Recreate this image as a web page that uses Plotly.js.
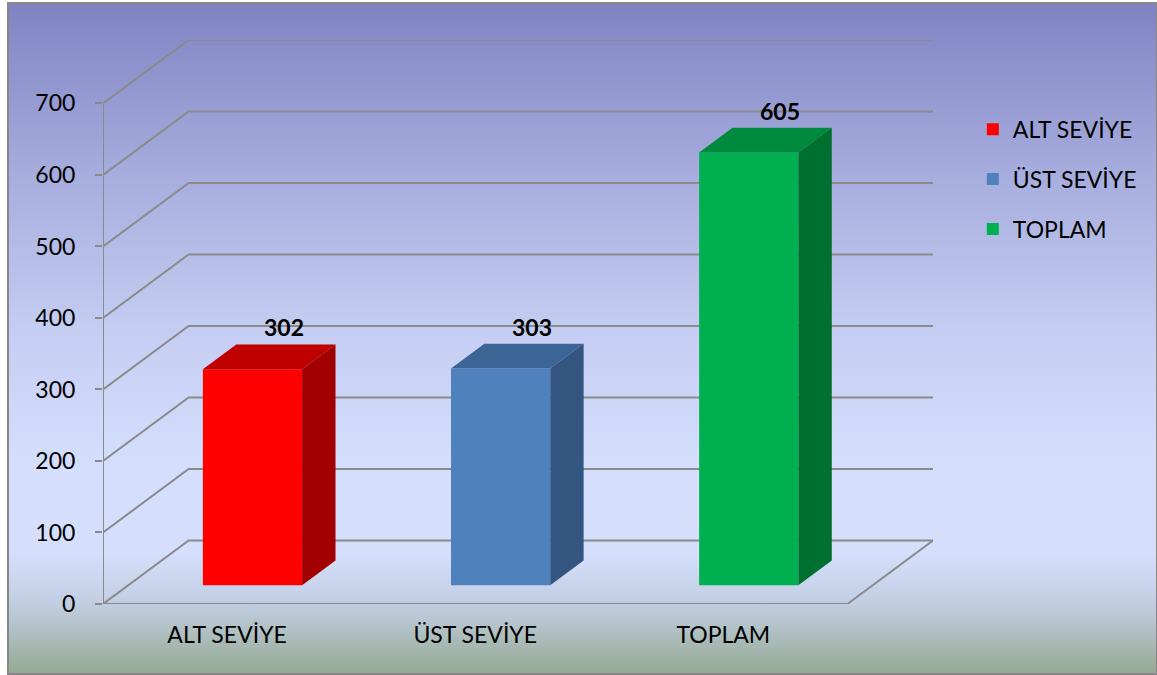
<!DOCTYPE html>
<html>
<head>
<meta charset="utf-8">
<script src="https://cdn.plot.ly/plotly-3.0.1.min.js"></script>
<style>
  html, body { margin: 0; padding: 0; background: #ffffff; }
  #wrap { position: relative; width: 1157px; height: 675px; overflow: hidden; }
  #bg {
    position: absolute; left: 7px; top: 2px; width: 1147px; height: 669px;
    border: 2px solid #878787;
    background: linear-gradient(to bottom,
      #8083c3 0%, #a6acdd 25%, #c6cff3 50%, #d5dffd 70%, #d5dffc 82%,
      #c0cde0 90%, #95aa93 100%);
  }
  #chart { position: absolute; left: 0; top: 0; width: 1157px; height: 675px; }
</style>
</head>
<body>
<div id="wrap">
  <div id="bg"></div>
  <div id="chart"></div>
</div>
<script>
// ---- data ----
const categories = ["ALT SEVİYE", "ÜST SEVİYE", "TOPLAM"];
const values = [302, 303, 605];
const yTicks = [0, 100, 200, 300, 400, 500, 600, 700];

// ---- styles ----
const frontColors = ["#FF0000", "#4F81BD", "#00B050"];
const topColors   = ["#C00000", "#3C6494", "#008A3E"];
const sideColors  = ["#A20000", "#34557F", "#007030"];
const gridColor = "#8a8a8a";
const FONT = "Lato, 'Open Sans', sans-serif";
const FS = 23;

// ---- pseudo-3D projection (depth offset in axis units) ----
const DX = 0.345;   // full depth, x units
const DY = 88.7;    // full depth, y units
const F1 = 0.297;   // bar front depth fraction
const F2 = 0.687;   // bar back depth fraction
const HW = 0.2;     // bar half width
const X0 = -0.5, X1 = categories.length - 0.5;
const YMAX = yTicks[yTicks.length - 1];

const traces = [];
const annotations = [];

// bars: front face as real bar trace, top and side faces as filled polygons
categories.forEach((c, i) => {
  const v = values[i];
  traces.push({
    type: "bar", x: [i + F1 * DX], y: [v], base: [F1 * DY], width: [2 * HW],
    name: c, legendgroup: "g" + i,
    marker: { color: frontColors[i], line: { width: 0 } },
    hoverinfo: "skip"
  });
  // top face
  traces.push({
    type: "scatter", mode: "lines", fill: "toself", showlegend: false, hoverinfo: "skip",
    x: [i - HW + F1 * DX, i + HW + F1 * DX, i + HW + F2 * DX, i - HW + F2 * DX, i - HW + F1 * DX],
    y: [v + F1 * DY, v + F1 * DY, v + F2 * DY, v + F2 * DY, v + F1 * DY],
    line: { width: 0, color: topColors[i] }, fillcolor: topColors[i]
  });
  // side face
  traces.push({
    type: "scatter", mode: "lines", fill: "toself", showlegend: false, hoverinfo: "skip",
    x: [i + HW + F1 * DX, i + HW + F1 * DX, i + HW + F2 * DX, i + HW + F2 * DX, i + HW + F1 * DX],
    y: [F1 * DY, v + F1 * DY, v + F2 * DY, F2 * DY, F1 * DY],
    line: { width: 0, color: sideColors[i] }, fillcolor: sideColors[i]
  });
  annotations.push({
    x: i + F2 * DX, y: v + F2 * DY, xref: "x", yref: "y",
    text: "<b>" + v + "</b>", showarrow: false, yanchor: "middle", yshift: 17, xshift: -2,
    font: { family: FONT, size: FS, color: "#000000" }
  });
});

// gridlines / walls as shapes beneath traces
const shapes = [];
const line = { color: gridColor, width: 2 };
yTicks.forEach(t => {
  shapes.push({ type: "path", layer: "below", xref: "x", yref: "y",
    path: `M${X0},${t} L${X0 + DX},${t + DY} L${X1 + DX},${t + DY}`, line: line });
});
// floor right edge, front floor edge, vertical axis
shapes.push({ type: "line", layer: "below", xref: "x", yref: "y", x0: X1, y0: 0, x1: X1 + DX, y1: DY, line: line });
shapes.push({ type: "line", layer: "below", xref: "x", yref: "y", x0: X0, y0: 0, x1: X1, y1: 0, line: line });
shapes.push({ type: "line", layer: "below", xref: "x", yref: "y", x0: X0, y0: 0, x1: X0, y1: YMAX, line: line });

const layout = {
  width: 1157, height: 675,
  margin: { l: 103, r: 224, t: 40, b: 71 },
  paper_bgcolor: "rgba(0,0,0,0)", plot_bgcolor: "rgba(0,0,0,0)",
  barmode: "overlay",
  font: { family: FONT, size: FS, color: "#000000" },
  showlegend: true,
  legend: {
    x: 1.048, xanchor: "left", y: 0.88, yanchor: "top",
    bgcolor: "rgba(0,0,0,0)", font: { family: FONT, size: FS, color: "#000000" },
    tracegroupgap: 17, traceorder: "grouped"
  },
  xaxis: {
    range: [X0, X1 + DX], tickvals: categories.map((c, i) => i), ticktext: categories,
    showgrid: false, zeroline: false, showline: false, ticks: "",
    ticklabelstandoff: 15, tickfont: { family: FONT, size: FS, color: "#000000" },
    fixedrange: true
  },
  xaxis2: {
    range: [X0, X1 + DX], overlaying: "x", anchor: "y", side: "bottom",
    tickvals: categories.map((c, i) => i - 0.5).concat([X1]),
    showticklabels: false, ticks: "outside", ticklen: 7, tickwidth: 2, tickcolor: gridColor,
    showgrid: false, zeroline: false, showline: false, fixedrange: true
  },
  yaxis: {
    range: [0, YMAX + DY], tickvals: yTicks, ticktext: yTicks.map(String),
    ticks: "outside", ticklen: 7, tickwidth: 2, tickcolor: gridColor,
    showgrid: false, zeroline: false, showline: false,
    ticklabelstandoff: 15, tickfont: { family: FONT, size: FS, color: "#000000" },
    fixedrange: true
  },
  shapes: shapes,
  annotations: annotations
};

Plotly.newPlot("chart", traces, layout, { displayModeBar: false, staticPlot: true });
</script>
</body>
</html>
